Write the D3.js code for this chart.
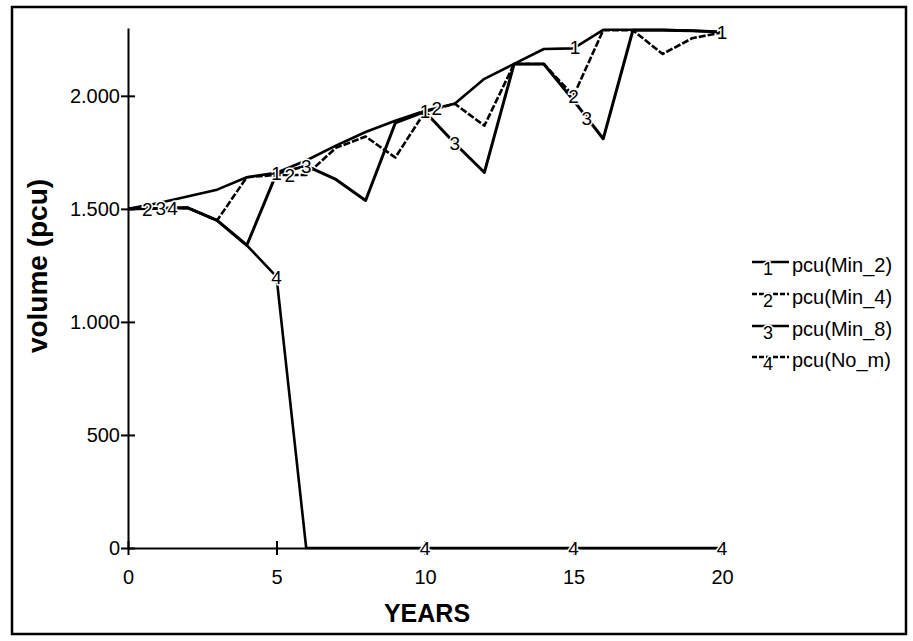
<!DOCTYPE html>
<html>
<head>
<meta charset="utf-8">
<script src="https://cdn.jsdelivr.net/npm/d3@7"></script>
<style>
  body { margin: 0; background: #fff; }
  svg { display: block; font-family: "Liberation Sans", Arial, sans-serif; }
</style>
</head>
<body>
<div id="chart"></div>
<script>
// values (volume in pcu, per year)
const years = [0, 1, 2, 3, 4, 5, 6, 7, 8, 9, 10, 11, 12, 13, 14, 15, 16, 17, 18, 19, 20];
const minTwo = [1500, 1525, 1555, 1585, 1640, 1660, 1714, 1780, 1840, 1890, 1934, 1965, 2075, 2141, 2207, 2210, 2292, 2292, 2292, 2288, 2282];
const minFour = [1500, 1502, 1505, 1449, 1640, 1650, 1650, 1770, 1820, 1727, 1930, 1965, 1868, 2141, 2141, 2000, 2290, 2290, 2185, 2255, 2280];
const minEight = [1500, 1502, 1505, 1449, 1339, 1656, 1690, 1630, 1537, 1880, 1930, 1790, 1661, 2141, 2141, 1980, 1810, 2290, 2290, 2288, 2282];
const noMaint = [1500, 1502, 1505, 1449, 1339, 1200, 0, 0, 0, 0, 0, 0, 0, 0, 0, 0, 0, 0, 0, 0, 0];

const seriesNames = ['pcu(Min_2)', 'pcu(Min_4)', 'pcu(Min_8)', 'pcu(No_m)'];
const seriesKeys = ['1', '2', '3', '4'];
// years where vensim put the little series numbers on each line
const labelYears = [
    [5, 10, 15.05, 20],
    [0.65, 5.45, 10.4, 15],
    [1.1, 6, 11, 15.45],
    [1.5, 5, 10, 15, 20]
];
const xTicks = [0, 5, 10, 15, 20];
const yTicks = [0, 500, 1000, 1500, 2000];

const allSeries = [minTwo, minFour, minEight, noMaint];
const dashes = [null, '7,2', null, null];
const widths = [2.6, 2.6, 3, 2.6];

const w = 913, h = 641;
const svg = d3.select('#chart')
    .append('svg')
    .attr('width', w)
    .attr('height', h);

// outer frame of the scan
svg.append('rect')
    .attr('x', 12).attr('y', 7)
    .attr('width', 894).attr('height', 627)
    .attr('fill', 'none')
    .attr('stroke', '#000')
    .attr('stroke-width', 2.5);

const x = d3.scaleLinear().domain([0, 20]).range([128, 722]);
const y = d3.scaleLinear().domain([0, 2300]).range([548, 28]);

const fmt = d3.formatLocale({ decimal: ',', thousands: '.', grouping: [3], currency: ['', ''] }).format(',');

function styleAxis(g) {
    g.select('.domain').attr('stroke', '#000').attr('stroke-width', 2);
    g.selectAll('.tick line').attr('stroke', '#000').attr('stroke-width', 2);
    g.selectAll('.tick text').attr('fill', '#000').style('font-size', '20px');
}

svg.append('g')
    .attr('transform', 'translate(128,0)')
    .call(d3.axisLeft(y).tickValues(yTicks).tickFormat(fmt).tickSizeInner(7).tickSizeOuter(0).tickPadding(1))
    .call(styleAxis);
svg.append('g')
    .attr('transform', 'translate(128,0)')
    .call(d3.axisRight(y).tickValues(yTicks).tickFormat('').tickSizeInner(7).tickSizeOuter(0))
    .call(styleAxis)
    .call(g => g.select('.domain').remove());

svg.append('g')
    .attr('transform', 'translate(0,548)')
    .call(d3.axisBottom(x).tickValues(xTicks).tickSizeInner(7).tickSizeOuter(0).tickPadding(15))
    .call(styleAxis);
svg.append('g')
    .attr('transform', 'translate(0,548)')
    .call(d3.axisTop(x).tickValues(xTicks).tickFormat('').tickSizeInner(7).tickSizeOuter(0))
    .call(styleAxis)
    .call(g => g.select('.domain').remove());

// axis titles
svg.append('text')
    .attr('x', 427).attr('y', 622)
    .attr('text-anchor', 'middle')
    .style('font-size', '25px')
    .style('font-weight', 'bold')
    .text('YEARS');

svg.append('text')
    .attr('transform', 'translate(47,266) rotate(-90)')
    .attr('text-anchor', 'middle')
    .style('font-size', '28px')
    .style('font-weight', 'bold')
    .text('volume (pcu)');

const line = d3.line()
    .x((d, i) => x(years[i]))
    .y(d => y(d));

for (let i = 0; i < allSeries.length; i++) {
    svg.append('path')
        .datum(allSeries[i])
        .attr('fill', 'none')
        .attr('stroke', '#000')
        .attr('stroke-width', widths[i])
        .attr('stroke-linejoin', 'round')
        .attr('stroke-dasharray', dashes[i])
        .attr('d', line);
}

// series numbers along the lines
for (let i = 0; i < allSeries.length; i++) {
    const interp = d3.scaleLinear().domain(years).range(allSeries[i]);
    svg.selectAll('.lbl' + i)
        .data(labelYears[i])
        .join('text')
        .attr('class', 'lbl' + i)
        .attr('x', d => x(d))
        .attr('y', d => y(interp(d)) + 7)
        .attr('text-anchor', 'middle')
        .style('font-size', '19px')
        .style('paint-order', 'stroke')
        .attr('stroke', '#fff')
        .attr('stroke-width', 3)
        .attr('fill', '#000')
        .text(seriesKeys[i]);
}

// legend
const legendRows = [265, 297, 329, 360];
for (let i = 0; i < seriesNames.length; i++) {
    const ly = legendRows[i];
    svg.append('line')
        .attr('x1', 752).attr('x2', 789)
        .attr('y1', ly - 3).attr('y2', ly - 3)
        .attr('stroke', '#000')
        .attr('stroke-width', 2.4)
        .attr('stroke-dasharray', i === 1 || i === 3 ? '5,2' : null);
    svg.append('text')
        .attr('x', 768).attr('y', ly + 10)
        .attr('text-anchor', 'middle')
        .style('font-size', '18px')
        .style('paint-order', 'stroke')
        .attr('stroke', '#fff')
        .attr('stroke-width', 3)
        .text(seriesKeys[i]);
    svg.append('text')
        .attr('x', 792).attr('y', ly + 7)
        .style('font-size', '20px')
        .text(seriesNames[i]);
}
</script>
</body>
</html>
